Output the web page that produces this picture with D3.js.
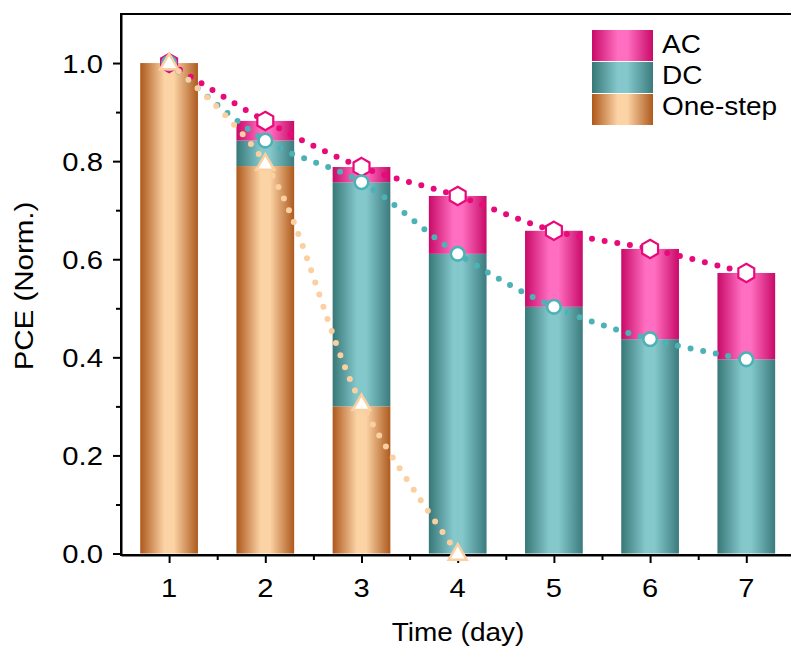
<!DOCTYPE html>
<html>
<head>
<meta charset="utf-8">
<script src="https://cdn.jsdelivr.net/npm/d3@7"></script>
<style>
  body { margin: 0; background: #fff; }
  svg { display: block; font-family: "Liberation Sans", Arial, sans-serif; }
</style>
</head>
<body>
<div id="container"></div>
<script>
const days = [1, 2, 3, 4, 5, 6, 7];
const oneStep = [1.0, 0.79, 0.30, 0, 0, 0, 0];
const dcTop = [1.0, 0.842, 0.757, 0.611, 0.503, 0.437, 0.396];
const acTop = [1.0, 0.882, 0.788, 0.729, 0.658, 0.621, 0.572];
const oneStepDays = [1, 2, 3, 4];
const oneStepPts = [1.0, 0.795, 0.305, 0.0];
const yTicks = [0, 0.2, 0.4, 0.6, 0.8, 1.0];
const yMinor = [0.1, 0.3, 0.5, 0.7, 0.9];
const xMinor = [1.5, 2.5, 3.5, 4.5, 5.5, 6.5];
const legendNames = ["AC", "DC", "One-step"];

const width = 791;
const height = 652;
const plotLeft = 121, plotTop = 14, plotBottom = 555;
const barW = 0.6;

const pink = "#e8097a", teal = "#4db2b6", peach = "#fbcf9f";

const svg = d3.select("#container").append("svg")
  .attr("width", width).attr("height", height);

const x = d3.scaleLinear().domain([0.5, 7.5]).range([plotLeft, plotLeft + 7 * 96.2]);
const y = d3.scaleLinear().domain([-0.003, 1.1]).range([plotBottom, plotTop]);

// the fonts in the original are drawn a bit wider than Arial
function label(tx, ty, str, size, anchor, sx, rot) {
  return svg.append("text")
    .attr("transform", `translate(${tx},${ty})${rot ? " rotate(" + rot + ")" : ""} scale(${sx},1)`)
    .attr("text-anchor", anchor).attr("font-size", size).attr("fill", "#000")
    .text(str);
}

// gradients for the bars
const defs = svg.append("defs");
function grad(id, edge, mid, edge2) {
  const g = defs.append("linearGradient").attr("id", id)
    .attr("x1", "0%").attr("x2", "100%").attr("y1", "0%").attr("y2", "0%");
  g.append("stop").attr("offset", "0%").attr("stop-color", edge);
  g.append("stop").attr("offset", "42%").attr("stop-color", mid);
  g.append("stop").attr("offset", "58%").attr("stop-color", mid);
  g.append("stop").attr("offset", "100%").attr("stop-color", edge2);
}
grad("gOrange", "#ad581b", "#fcd3a5", "#ad5a1e");
grad("gTeal", "#377777", "#84c8cc", "#3b7b7d");
grad("gPink", "#c80a68", "#ff6ec0", "#c80a68");

// stacked bars
const rows = days.map((d, i) => ({ day: d, s: oneStep[i], dc: dcTop[i], ac: acTop[i] }));
const bars = svg.append("g");
function addBars(lo, hi, fill) {
  bars.selectAll(null).data(rows.filter(r => hi(r) > lo(r))).enter().append("rect")
    .attr("x", r => x(r.day - barW / 2))
    .attr("width", r => x(r.day + barW / 2) - x(r.day - barW / 2))
    .attr("y", r => y(hi(r)))
    .attr("height", r => y(lo(r)) - y(hi(r)))
    .attr("fill", fill);
}
addBars(r => 0, r => r.s, "url(#gOrange)");
addBars(r => r.s, r => r.dc, "url(#gTeal)");
addBars(r => r.dc, r => r.ac, "url(#gPink)");

// axes (lines and ticks from d3.axis, labels drawn separately)
const axisY = svg.append("g").attr("transform", `translate(${plotLeft},0)`)
  .call(d3.axisLeft(y).tickValues(yTicks).tickFormat("").tickSize(8).tickSizeOuter(0));
const minorY = svg.append("g").attr("transform", `translate(${plotLeft},0)`)
  .call(d3.axisLeft(y).tickValues(yMinor).tickFormat("").tickSize(5).tickSizeOuter(0));
const axisX = svg.append("g").attr("transform", `translate(0,${plotBottom})`)
  .call(d3.axisBottom(x).tickValues(days).tickFormat("").tickSize(8).tickSizeOuter(0));
const minorX = svg.append("g").attr("transform", `translate(0,${plotBottom})`)
  .call(d3.axisBottom(x).tickValues(xMinor).tickFormat("").tickSize(5).tickSizeOuter(0));
[axisY, minorY, axisX, minorX].forEach(a => {
  a.selectAll("path.domain").attr("stroke", "#000").attr("stroke-width", 2);
  a.selectAll(".tick line").attr("stroke", "#000").attr("stroke-width", 2);
});
axisY.select("path.domain").attr("d", `M0,${plotBottom + 1}V${plotTop}`);
axisX.select("path.domain").attr("d", `M${plotLeft - 1},0H${width}`);

svg.append("line").attr("x1", plotLeft - 1).attr("x2", width).attr("y1", plotTop).attr("y2", plotTop)
  .attr("stroke", "#000").attr("stroke-width", 2);

yTicks.forEach(v => label(plotLeft - 18, y(v) + 9.5, d3.format(".1f")(v), 25, "end", 1.17));
days.forEach(d => label(x(d), plotBottom + 42, d3.format("d")(d), 26, "middle", 1.12));

// dotted spline lines
const line = d3.line().x(d => x(d[0])).y(d => y(d[1])).curve(d3.curveCatmullRom.alpha(0.5));
function dotted(pts, color) {
  svg.append("path").attr("d", line(pts))
    .attr("fill", "none").attr("stroke", color).attr("stroke-width", 6)
    .attr("stroke-linecap", "round").attr("stroke-dasharray", "0,12.8");
}
dotted(days.map((d, i) => [d, acTop[i]]), pink);
dotted(days.map((d, i) => [d, dcTop[i]]), teal);
dotted(oneStepDays.map((d, i) => [d, oneStepPts[i]]), peach);

// markers
const hex = d3.range(6).map(k => {
  const a = -Math.PI / 2 + k * Math.PI / 3;
  return [9.2 * Math.cos(a), 9.2 * Math.sin(a)];
});
svg.append("g").selectAll("path").data(days.map((d, i) => [d, acTop[i]])).enter().append("path")
  .attr("d", "M" + hex.join("L") + "Z")
  .attr("transform", p => `translate(${x(p[0])},${y(p[1])})`)
  .attr("fill", "#fff").attr("stroke", pink).attr("stroke-width", 2.2);
svg.append("g").selectAll("circle").data(days.map((d, i) => [d, dcTop[i]])).enter().append("circle")
  .attr("cx", p => x(p[0])).attr("cy", p => y(p[1])).attr("r", 6.8)
  .attr("fill", "#fff").attr("stroke", teal).attr("stroke-width", 2.6);
const tri = d3.symbol().type(d3.symbolTriangle).size(140);
svg.append("g").selectAll("path").data(oneStepDays.map((d, i) => [d, oneStepPts[i]])).enter().append("path")
  .attr("d", tri)
  .attr("transform", p => `translate(${x(p[0])},${y(p[1]) + 1})`)
  .attr("fill", "#fff").attr("stroke", peach).attr("stroke-width", 2.5);

// legend
const legendFills = ["url(#gPink)", "url(#gTeal)", "url(#gOrange)"];
legendNames.forEach((name, i) => {
  svg.append("rect").attr("x", 592).attr("y", 30 + i * 32).attr("width", 61).attr("height", 31)
    .attr("fill", legendFills[i]);
  label(662, 53 + i * 31, name, 25, "start", 1.12);
});

// axis titles
label(458, 641, "Time (day)", 25, "middle", 1.12);
label(33, 286, "PCE (Norm.)", 25, "middle", 1.18, -90);
</script>
</body>
</html>
